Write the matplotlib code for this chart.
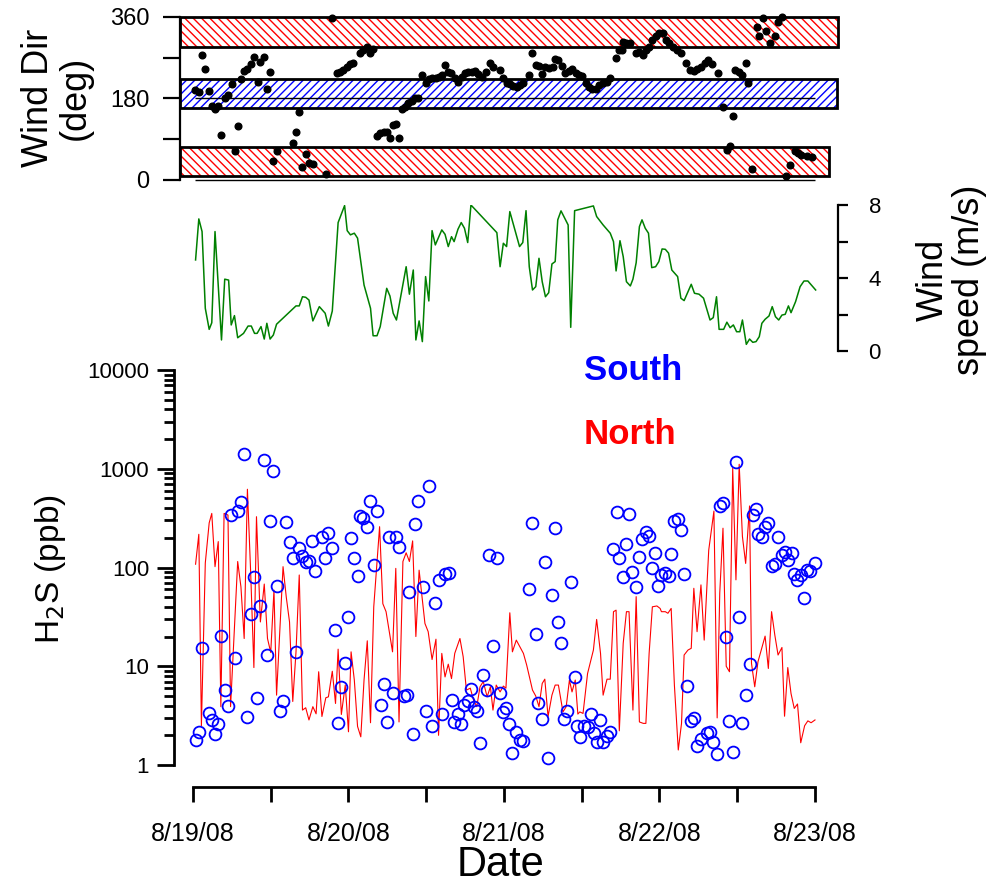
import numpy as np
import matplotlib.pyplot as plt
from matplotlib.patches import Rectangle
from matplotlib.ticker import FixedLocator, NullFormatter

plt.rcParams['font.family'] = 'Liberation Sans'
plt.rcParams['hatch.linewidth'] = 1.0

# time axis: hours after 8/19/08 00:00
date_ticks = [0, 24, 48, 72, 96]
date_labels = ['8/19/08', '8/20/08', '8/21/08', '8/22/08', '8/23/08']

# wind direction (deg)
dir_hours = [0.3, 0.9, 1.4, 1.9, 2.4, 2.9, 3.4, 3.9, 4.4, 4.9,
             5.4, 6.0, 6.5, 6.9, 7.4, 7.9, 8.4, 8.9, 9.4, 10.0,
             10.4, 10.9, 11.4, 11.9, 12.4, 12.9, 15.4, 15.9, 16.4, 16.9,
             17.4, 17.9, 18.5, 20.5, 21.4, 22.2, 22.7, 23.2, 23.7, 24.2,
             24.7, 25.8, 26.3, 26.8, 27.3, 27.8, 28.4, 28.9, 29.5, 30.0,
             30.4, 30.9, 31.4, 31.8, 32.2, 32.7, 33.2, 33.8, 34.3, 34.8,
             35.4, 35.9, 36.4, 36.9, 37.5, 38.0, 38.5, 38.9, 39.4, 39.9,
             40.4, 40.9, 41.5, 42.0, 42.5, 43.0, 43.5, 44.0, 44.6, 45.2,
             45.8, 46.3, 47.4, 47.9, 48.4, 48.9, 49.4, 50.0, 50.5, 51.0,
             51.9, 52.4, 52.9, 53.4, 53.9, 54.4, 54.9, 55.5, 55.9, 56.4,
             56.9, 57.4, 58.0, 58.5, 59.1, 59.6, 60.1, 60.6, 61.1, 61.6,
             62.2, 62.7, 63.3, 63.9, 64.4, 65.3, 65.7, 66.2, 66.4, 66.9,
             67.4, 68.4, 68.9, 69.4, 69.9, 70.4, 70.9, 71.5, 72.0, 72.5,
             73.0, 73.5, 74.1, 74.7, 75.3, 76.1, 76.7, 77.3, 77.8, 78.4,
             79.0, 79.5, 80.1, 81.0, 81.8, 82.4, 82.9, 83.4, 83.7, 84.2,
             84.7, 85.3, 85.7, 86.3, 87.0, 87.4, 87.9, 88.4, 89.1, 89.8,
             90.3, 90.9, 91.6, 92.2, 92.9, 93.4, 93.9, 94.7, 95.5]
dir_deg = [199, 194, 276, 246, 197, 164, 157, 164, 99, 182,
           188, 212, 63, 119, 223, 241, 245, 256, 272, 217,
           260, 272, 201, 238, 43, 63, 81, 105, 151, 29,
           57, 37, 35, 13, 357, 236, 239, 243, 249, 256,
           258, 280, 287, 294, 281, 289, 97, 103, 107, 105,
           92, 122, 124, 92, 157, 162, 169, 175, 180, 180,
           232, 214, 223, 225, 225, 228, 233, 254, 239, 236,
           225, 217, 228, 236, 238, 239, 241, 234, 228, 239,
           258, 250, 244, 225, 214, 212, 208, 206, 210, 215,
           232, 280, 254, 252, 234, 250, 248, 249, 267, 265,
           252, 237, 241, 245, 236, 233, 230, 214, 206, 201,
           200, 210, 215, 217, 225, 269, 287, 287, 305, 303,
           302, 281, 283, 275, 287, 294, 309, 317, 324, 325,
           309, 302, 294, 287, 280, 259, 244, 241, 245, 249,
           259, 265, 256, 237, 161, 66, 74, 141, 244, 239,
           232, 259, 214, 24, 337, 318, 357, 330, 302, 318,
           350, 360, 9, 33, 63, 59, 55, 52, 50]

# direction sectors (deg)
north_sectors = [(293, 360), (9, 73)]
south_sector = (158, 224)

# wind speed (m/s)
spd_hours = [0.4, 0.9, 1.4, 1.9, 2.5, 2.9, 3.4, 4.4, 4.9, 5.5,
             5.9, 6.4, 6.9, 7.8, 8.5, 9.0, 9.5, 9.9, 10.5, 11.0,
             11.4, 11.9, 12.4, 12.9, 15.9, 16.4, 16.9, 17.4, 17.9, 18.5,
             19.5, 20.4, 20.9, 21.5, 22.4, 23.4, 23.8, 24.3, 24.9, 25.4,
             26.4, 27.4, 27.8, 28.4, 28.9, 29.9, 30.4, 30.9, 31.4, 32.9,
             33.4, 34.0, 34.4, 34.9, 35.4, 35.9, 36.4, 36.9, 37.4, 38.4,
             38.9, 39.4, 39.9, 40.3, 40.9, 41.4, 41.9, 42.4, 42.9, 46.9,
             47.4, 47.9, 48.4, 48.9, 50.4, 50.9, 51.4, 51.9, 52.4, 52.9,
             53.4, 53.9, 54.4, 54.9, 55.4, 55.9, 56.3, 56.8, 57.9, 58.3,
             58.9, 61.8, 62.3, 63.3, 64.4, 64.9, 65.3, 65.9, 66.4, 66.9,
             67.5, 67.9, 68.4, 68.9, 69.3, 69.8, 70.3, 70.8, 71.4, 71.9,
             72.4, 72.9, 73.4, 73.9, 74.8, 75.3, 75.8, 76.9, 77.4, 78.1,
             78.8, 79.8, 80.3, 80.8, 81.2, 81.9, 82.4, 82.9, 83.4, 83.9,
             84.4, 84.8, 85.4, 85.9, 86.4, 86.9, 87.4, 87.8, 88.3, 88.9,
             89.4, 89.9, 90.4, 90.9, 91.4, 91.9, 92.3, 93.0, 93.7, 94.3,
             94.9, 96.1]
spd_ms = [5.0, 7.24, 6.55, 2.36, 1.21, 1.57, 6.55, 0.63, 3.95, 3.9,
          1.45, 1.96, 0.75, 0.99, 1.39, 1.39, 0.99, 0.99, 1.36, 0.68,
          1.54, 0.68, 0.9, 1.49, 2.49, 2.49, 2.99, 2.96, 2.81, 1.67,
          2.45, 2.09, 1.39, 2.21, 7.04, 7.97, 6.6, 6.37, 6.46, 6.19,
          3.63, 2.36, 0.86, 0.86, 1.36, 3.45, 3.03, 2.09, 1.72, 4.63,
          3.13, 4.45, 0.63, 1.67, 0.54, 4.09, 2.76, 6.6, 5.82, 6.64,
          6.4, 5.73, 6.27, 6.0, 6.68, 7.04, 6.73, 5.95, 8.0, 6.49,
          4.63, 5.91, 5.73, 7.64, 5.73, 5.95, 7.69, 4.63, 3.36, 3.54,
          5.09, 3.81, 2.99, 3.21, 4.78, 4.91, 7.19, 7.68, 6.91, 1.32,
          7.69, 7.95, 7.37, 6.91, 6.46, 6.0, 4.4, 6.05, 5.18, 3.81,
          3.58, 3.95, 4.85, 6.82, 7.19, 6.73, 6.46, 4.58, 4.63, 4.91,
          5.6, 5.58, 5.37, 4.45, 4.09, 2.91, 2.78, 3.67, 3.18, 3.13,
          2.91, 1.72, 1.85, 2.99, 1.21, 1.21, 1.6, 1.3, 1.45, 1.08,
          1.08, 1.72, 0.39, 0.68, 0.5, 0.54, 0.81, 1.54, 1.76, 1.94,
          2.45, 1.9, 1.72, 1.99, 2.03, 2.49, 2.12, 2.72, 3.54, 3.85,
          3.85, 3.36]

# H2S, south site (ppb)
south_hours = [0.4, 0.9, 1.4, 2.4, 2.9, 3.4, 3.9, 4.4, 4.9, 5.4,
               5.9, 6.5, 6.9, 7.4, 7.9, 8.4, 8.9, 9.4, 9.9, 10.4,
               10.9, 11.4, 11.9, 12.4, 12.9, 13.4, 13.9, 14.4, 14.9, 15.4,
               15.9, 16.4, 16.9, 17.4, 17.9, 18.4, 18.9, 19.9, 20.4, 20.9,
               21.4, 21.9, 22.4, 22.9, 23.4, 23.9, 24.4, 24.9, 25.4, 25.8,
               26.3, 26.9, 27.3, 27.9, 28.4, 29.0, 29.5, 29.9, 30.3, 30.9,
               31.3, 31.8, 32.5, 33.0, 33.4, 33.9, 34.3, 34.8, 35.5, 35.9,
               36.4, 36.9, 37.4, 37.9, 38.4, 38.9, 39.5, 39.9, 40.3, 40.9,
               41.4, 41.9, 42.4, 42.9, 43.4, 43.9, 44.3, 44.8, 45.4, 45.7,
               46.3, 46.9, 47.4, 47.8, 48.3, 48.8, 49.3, 49.9, 50.4, 50.9,
               51.9, 52.4, 52.9, 53.3, 53.8, 54.4, 54.8, 55.4, 55.9, 56.3,
               56.8, 57.3, 57.8, 58.3, 58.9, 59.3, 59.8, 60.3, 60.9, 61.4,
               61.9, 62.3, 62.8, 63.3, 63.9, 64.4, 64.9, 65.4, 65.8, 66.3,
               66.8, 67.3, 67.8, 68.3, 68.8, 69.3, 69.9, 70.4, 70.8, 71.3,
               71.8, 72.3, 72.9, 73.4, 73.8, 74.3, 74.8, 75.3, 75.8, 76.3,
               76.8, 77.3, 77.8, 78.4, 79.3, 79.8, 80.3, 80.8, 81.3, 81.8,
               82.3, 82.8, 83.3, 83.8, 84.3, 84.8, 85.3, 85.9, 86.4, 86.9,
               87.2, 87.8, 88.3, 88.8, 89.3, 89.8, 90.3, 90.9, 91.4, 91.9,
               92.4, 92.8, 93.3, 93.8, 94.3, 94.7, 95.2, 96.0]
south_ppb = [1.79, 2.14, 15.3, 3.34, 2.86, 2.07, 2.58, 20.4, 5.74, 3.96,
             340, 12.2, 375, 464, 1400, 3.04, 33.6, 79.3, 4.73, 40.8,
             1230, 13.0, 293, 960, 65, 3.52, 4.48, 286, 183, 124,
             14.0, 157, 131, 115, 116, 186, 92, 203, 124, 221,
             157, 23.3, 2.64, 6.2, 10.7, 31.7, 197, 126, 82.6, 333,
             314, 259, 470, 106, 373, 4.05, 6.55, 2.74, 203, 5.32,
             206, 160, 4.99, 5.11, 56.7, 2.07, 273, 470, 63.7, 3.52,
             672, 2.5, 44, 74.8, 3.27, 85.6, 87.6, 4.55, 2.7, 3.28,
             2.6, 4.05, 4.45, 5.87, 3.9, 3.54, 1.66, 8.25, 5.74, 133,
             16.1, 126, 5.32, 3.46, 3.74, 2.58, 1.33, 2.17, 1.79, 1.75,
             60.7, 281, 21.2, 4.23, 2.92, 113, 1.19, 52.8, 251, 28.1,
             17.1, 2.92, 3.54, 72.1, 7.8, 2.48, 1.92, 2.48, 2.41, 3.28,
             2.09, 1.72, 2.86, 1.72, 1.98, 2.14, 155, 364, 124, 79.3,
             173, 350, 90, 63.7, 128, 195, 228, 208, 98, 141,
             65, 84, 87.6, 82.6, 137, 299, 310, 238, 86, 6.3,
             2.79, 3.01, 1.57, 1.83, 2.12, 2.17, 1.7, 1.28, 420, 450,
             19.6, 2.79, 1.36, 1180, 31.7, 2.68, 5.11, 10.5, 340, 392,
             218, 206, 259, 281, 104, 108, 203, 134, 145, 119,
             139, 86, 74.8, 84, 49.3, 94, 92.4, 110]

# H2S, north site (ppb)
north_hours = [0.4, 0.9, 1.3, 1.9, 2.5, 2.9, 3.4, 3.9, 4.3, 4.8,
               5.4, 5.8, 6.9, 7.4, 7.9, 8.4, 8.9, 9.4, 9.8, 10.4,
               11.0, 11.5, 12.0, 12.5, 12.9, 13.9, 14.4, 14.9, 15.4, 15.9,
               16.4, 16.9, 17.4, 17.9, 18.5, 19.0, 19.4, 19.9, 20.5, 20.9,
               21.5, 22.0, 22.4, 22.9, 23.5, 24.0, 24.4, 24.9, 25.4, 25.9,
               26.4, 26.9, 27.4, 27.9, 28.8, 29.3, 29.8, 30.8, 31.3, 31.8,
               32.4, 32.9, 33.4, 33.9, 34.4, 34.9, 35.8, 36.3, 36.9, 37.5,
               37.9, 38.4, 38.9, 39.4, 39.9, 40.4, 41.2, 41.7, 42.2, 42.8,
               43.3, 43.8, 44.3, 44.8, 45.4, 45.9, 46.3, 46.8, 47.4, 47.9,
               48.3, 48.9, 49.3, 49.9, 50.4, 51.0, 51.5, 52.4, 52.9, 53.4,
               53.9, 54.3, 54.8, 55.4, 55.9, 56.4, 57.1, 57.6, 58.1, 58.5,
               59.0, 59.4, 59.7, 60.2, 60.9, 61.8, 62.3, 62.9, 63.3, 63.9,
               64.4, 64.9, 65.3, 65.8, 66.4, 66.9, 67.3, 67.9, 68.4, 68.9,
               69.5, 69.9, 70.4, 70.9, 71.6, 72.1, 72.3, 72.9, 73.3, 73.8,
               74.3, 74.9, 75.4, 75.8, 76.4, 76.9, 77.3, 77.8, 78.4, 78.9,
               79.6, 80.4, 80.9, 81.3, 81.8, 82.3, 82.8, 83.3, 83.8, 84.3,
               84.8, 85.3, 85.9, 86.2, 86.7, 87.2, 87.7, 88.3, 88.8, 89.3,
               89.8, 90.3, 90.9, 91.3, 91.8, 92.3, 92.8, 93.3, 93.8, 94.4,
               94.9, 95.4, 96.0]
north_ppb = [108, 217, 2.5, 111, 283, 353, 102, 183, 3.9, 353,
             340, 3.9, 115, 63.7, 19.1, 620, 90, 9.7, 327, 28.1,
             68, 19.1, 13.8, 59, 5.1, 102, 50, 28.1, 4.4, 14.0,
             84, 3.6, 3.8, 2.86, 3.9, 3.3, 8.8, 3.1, 4.8, 4.9,
             8.9, 4.2, 14.9, 3.25, 6.45, 2.17, 14.0, 7.25, 2.46, 1.93,
             7.25, 18.1, 2.68, 40, 259, 43, 35.7, 14.0, 98, 2.73,
             115, 141, 115, 186, 20, 94, 27.1, 22.4, 11.7, 18.8,
             2.0, 13.5, 7.8, 10.5, 7.5, 13.5, 19.1, 12.5, 5.74, 6.0,
             4.55, 3.9, 6.2, 7.0, 4.9, 6.2, 3.6, 6.45, 5.5, 6.3,
             6.0, 34.8, 14.0, 18.4, 16.0, 13.5, 10.3, 5.74, 5.0, 3.9,
             6.7, 7.4, 3.1, 5.1, 6.45, 6.45, 3.45, 3.9, 7.25, 5.5,
             7.25, 3.28, 3.45, 3.33, 8.45, 14.6, 29.8, 13.5, 5.1, 7.4,
             7.4, 35.7, 37, 2.22, 17.1, 35.7, 35.7, 3.6, 50.7, 2.73,
             2.64, 2.64, 13.5, 40, 40.8, 38.5, 35.7, 35.7, 34.4, 38.5,
             6.45, 1.42, 2.64, 13.0, 14.6, 15.2, 61.6, 22.4, 66.7, 18.4,
             150, 373, 3.0, 55, 250, 10, 8.8, 1010, 75, 1110,
             206, 110, 420, 10.7, 6.2, 11.1, 14.6, 20.2, 9.5, 35.7,
             20.7, 13.0, 15.5, 3.12, 9.7, 5.3, 3.74, 4.15, 1.68, 2.5,
             2.8, 2.68, 2.86]

W, H = 999, 884


def box(x0, y0, x1, y1):
    # pixel box -> figure fraction
    return [x0 / W, 1 - y1 / H, (x1 - x0) / W, (y1 - y0) / H]


fig = plt.figure(figsize=(W / 100, H / 100), dpi=100)

# ---- wind direction ----
ax1 = fig.add_axes(box(180, 17, 840, 180))
ax1.set_xlim(-2.0, 99.86)
ax1.set_ylim(0, 360)
for s in ['top', 'right', 'bottom']:
    ax1.spines[s].set_visible(False)
ax1.spines['left'].set_linewidth(1.6)
ax1.set_xticks([])
ax1.set_yticks([0, 90, 180, 270, 360])
ax1.set_yticklabels(['0', '', '180', '', '360'])
ax1.tick_params(axis='y', length=12, width=1.6, labelsize=17, pad=10)

band_right = [99.5, 98.2]
for (lo, hi), xr in zip(north_sectors, band_right):
    ax1.add_patch(Rectangle((-2.0, lo), xr + 2.0, hi - lo, facecolor='white',
                            edgecolor='red', hatch='\\\\\\\\', lw=0,
                            zorder=1, clip_on=False))
    ax1.add_patch(Rectangle((-2.0, lo), xr + 2.0, hi - lo, fill=False,
                            edgecolor='black', lw=2, zorder=2, clip_on=False))
lo, hi = south_sector
ax1.add_patch(Rectangle((-2.0, lo), 99.4 + 2.0, hi - lo, facecolor='white',
                        edgecolor='blue', hatch='////', lw=0, zorder=1))
ax1.add_patch(Rectangle((-2.0, lo), 99.4 + 2.0, hi - lo, fill=False,
                        edgecolor='black', lw=2, zorder=2))
ax1.hlines([0, 180], dir_hours[0], date_ticks[-1], colors='black', lw=1,
           zorder=2, clip_on=False)
ax1.plot(dir_hours, dir_deg, 'o', color='black', ms=4.8, zorder=3,
         clip_on=False)

# ---- wind speed ----
ax2 = fig.add_axes(box(174, 205, 838, 351.5))
ax2.set_xlim(-2.93, 99.55)
ax2.set_ylim(0, 8)
for s in ['top', 'left', 'bottom']:
    ax2.spines[s].set_visible(False)
ax2.spines['right'].set_linewidth(1.6)
ax2.set_xticks([])
ax2.yaxis.tick_right()
ax2.set_yticks([0, 2, 4, 6, 8])
ax2.set_yticklabels(['0', '', '4', '', '8'])
ax2.tick_params(axis='y', length=7, width=1.6, labelsize=16, pad=15)
ax2.plot(spd_hours, spd_ms, color='green', lw=1.1)

# ---- H2S ----
ax3 = fig.add_axes(box(174, 370, 840, 787))
ax3.set_yscale('log')
ax3.set_xlim(-2.93, 99.86)
ax3.set_ylim(0.599, 10000)
ax3.spines['top'].set_visible(False)
ax3.spines['right'].set_visible(False)
ax3.spines['left'].set_linewidth(2)
ax3.spines['bottom'].set_linewidth(2)
ax3.spines['left'].set_bounds(1, 10000)
ax3.spines['bottom'].set_bounds(date_ticks[0], date_ticks[-1])

decades = [1, 10, 100, 1000, 10000]
ax3.yaxis.set_major_locator(FixedLocator(decades))
ax3.set_yticklabels([str(d) for d in decades])
ax3.yaxis.set_minor_locator(FixedLocator(
    [m * d for d in decades[:-1] for m in range(2, 10)]))
ax3.yaxis.set_minor_formatter(NullFormatter())
ax3.tick_params(axis='y', which='major', length=12, width=2, labelsize=16,
                pad=6)
ax3.tick_params(axis='y', which='minor', length=7, width=2)

half_days = np.arange(date_ticks[0], date_ticks[-1] + 1, 12)
ax3.set_xticks(half_days)
ax3.set_xticklabels([date_labels[date_ticks.index(h)] if h in date_ticks
                     else '' for h in half_days])
ax3.tick_params(axis='x', length=11, width=2, labelsize=18, pad=14)

ax3.plot(north_hours, north_ppb, color='red', lw=0.8, zorder=2)
ax3.plot(south_hours, south_ppb, 'o', mfc='none', mec='blue', ms=8.5,
         mew=1.3, zorder=3, clip_on=False)

# ---- text ----
fig.text(0.057, 0.889, 'Wind Dir\n(deg)', rotation=90, ha='center',
         va='center', fontsize=26, linespacing=1.05)
fig.text(0.952, 0.683, 'Wind\nspeed (m/s)', rotation=90, ha='center',
         va='center', fontsize=26, linespacing=1.05)
fig.text(0.051, 0.356, 'H$_2$S (ppb)', rotation=90, ha='center',
         va='center', fontsize=24)
fig.text(0.501, 0.021, 'Date', ha='center', va='center', fontsize=30)
fig.text(0.634, 0.581, 'South', ha='center', va='center', fontsize=25,
         fontweight='bold', color='blue')
fig.text(0.631, 0.509, 'North', ha='center', va='center', fontsize=25,
         fontweight='bold', color='red')

fig.savefig('out.png', dpi=100)
